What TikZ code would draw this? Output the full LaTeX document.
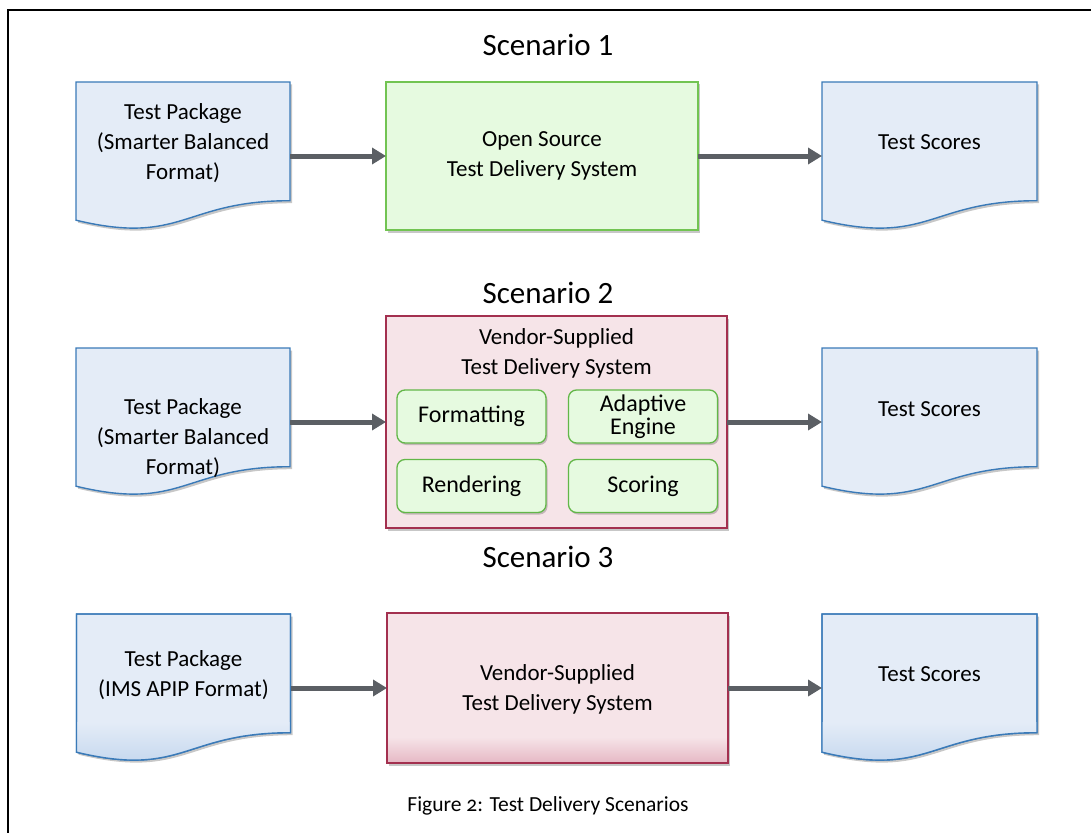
\documentclass[tikz,border=0pt]{standalone}
\usepackage{fontspec}
\setmainfont{Carlito}
\newfontfamily\capfont[Numbers=OldStyle]{Carlito}
\usetikzlibrary{arrows.meta,shadows,calc}
\definecolor{docfill}{HTML}{E4ECF7}
\definecolor{docline}{HTML}{3A7AB8}
\definecolor{docgrad}{HTML}{C3D6EE}
\definecolor{greenfill}{HTML}{E6FAE0}
\definecolor{greenline}{HTML}{72C452}
\definecolor{innerline}{HTML}{62B748}
\definecolor{pinkfill}{HTML}{F6E4E8}
\definecolor{pinkline}{HTML}{A3304F}
\definecolor{pinkdark}{HTML}{E6B8C4}
\definecolor{arrowgray}{HTML}{5B5F64}
\newcommand\drawdoc[2][docpath]{%
  \path[#1] (#2.north west) -- (#2.north east) -- ([yshift=29.3pt]#2.south east)
    .. controls ([yshift=29.3pt]#2.south) and ([yshift=-15.9pt]#2.south) .. ([yshift=9.8pt]#2.south west) -- cycle;}
\newcommand\docclip[1]{%
  \clip (#1.north west) -- (#1.north east) -- ([yshift=29.3pt]#1.south east)
    .. controls ([yshift=29.3pt]#1.south) and ([yshift=-15.9pt]#1.south) .. ([yshift=9.8pt]#1.south west) -- cycle;}
\begin{document}
\begin{tikzpicture}[x=1pt,y=-1pt,
  every node/.style={inner sep=0pt, outer sep=0pt},
  mainfont/.style={font=\fontsize{23}{30}\selectfont},
  holder/.style={rectangle, minimum width=214pt, minimum height=148pt},
  docpath/.style={fill=docfill, draw=docline, line width=1.4pt,
    drop shadow={shadow xshift=2pt, shadow yshift=-2.5pt, opacity=0.22, fill=black}},
  docborder/.style={draw=docline, line width=1.4pt},
  doctext/.style={mainfont, align=center},
  sysgreen/.style={rectangle, fill=greenfill, draw=greenline, line width=1.4pt,
    minimum width=312pt, minimum height=148pt, mainfont, align=center,
    drop shadow={shadow xshift=2pt, shadow yshift=-2.5pt, opacity=0.22, fill=black}},
  syspink/.style={rectangle, fill=pinkfill, draw=pinkline, line width=1.4pt,
    minimum width=341pt, mainfont, align=center,
    drop shadow={shadow xshift=2pt, shadow yshift=-2.5pt, opacity=0.22, fill=black}},
  innerbox/.style={rectangle, rounded corners=8pt, fill=greenfill, draw=innerline, line width=1.3pt,
    minimum width=149pt, minimum height=53pt, align=center,
    font=\fontsize{24}{23.5}\selectfont,
    drop shadow={shadow xshift=1.5pt, shadow yshift=-2pt, opacity=0.2, fill=black}},
  scen/.style={font=\fontsize{31}{36}\selectfont},
  flow/.style={draw=arrowgray, line width=5pt, -{Triangle[length=14pt,width=16pt]}, arrowgray}
]
\useasboundingbox (0,0) rectangle (1091,832);
% frame
\draw[line width=2.6pt, black] (8,840) -- (8,10) -- (1100,10);

% ---------- Scenario 1 ----------
\node[scen] (t1) at (548,45) {Scenario 1};
\node[holder] (p1) at (183,156) {};
\drawdoc{p1}
\node[doctext] (p1t) at ([yshift=-61pt]p1.north) {Test Package\\(Smarter Balanced\\Format)};
\node[sysgreen] (s1) at (542,156) {Open Source\\Test Delivery System};
\node[holder, minimum width=215pt] (r1) at (929.5,156) {};
\drawdoc{r1}
\node[doctext] (r1t) at ([yshift=-60pt]r1.north) {Test Scores};
\draw[flow] (p1.east) -- (s1.west);
\draw[flow] (s1.east) -- (r1.west);

% ---------- Scenario 2 ----------
\node[scen] (t2) at (548,293) {Scenario 2};
\node[holder] (p2) at (183,422) {};
\drawdoc{p2}
\node[doctext] (p2t) at ([yshift=-90pt]p2.north) {Test Package\\(Smarter Balanced\\Format)};
\node[syspink, minimum height=212pt] (s2) at (556.5,422) {};
\node[doctext] (s2t) at (556.5,353) {Vendor-Supplied\\Test Delivery System};
\node[innerbox] (fmt) at (471.5,416.5) {Formatting};
\node[innerbox] (ada) at (643,416.5) {Adaptive\\Engine};
\node[innerbox] (ren) at (471.5,486) {Rendering};
\node[innerbox] (sco) at (643,486) {Scoring};
\node[holder, minimum width=215pt] (r2) at (929.5,422) {};
\drawdoc{r2}
\node[doctext] (r2t) at ([yshift=-61pt]r2.north) {Test Scores};
\draw[flow] (p2.east) -- (s2.west);
\draw[flow] (s2.east) -- (r2.west);

% ---------- Scenario 3 ----------
\node[scen] (t3) at (548,557) {Scenario 3};
\node[holder] (p3) at (183.5,688) {};
\drawdoc{p3}
\begin{scope}
  \docclip{p3}
  \shade[top color=docfill, bottom color=docgrad] ([yshift=40pt]p3.south west) rectangle ([yshift=-4pt]p3.south east);
\end{scope}
\drawdoc[docborder]{p3}
\node[doctext] (p3t) at ([yshift=-61pt]p3.north) {Test Package\\(IMS APIP Format)};
\node[syspink, minimum height=150pt] (s3) at (557.5,688) {};
\shade[top color=pinkfill, bottom color=pinkdark] ([yshift=26pt]s3.south west) rectangle (s3.south east);
\draw[draw=pinkline, line width=1.4pt] (s3.north west) rectangle (s3.south east);
\node[doctext] (s3t) at (557.5,689) {Vendor-Supplied\\Test Delivery System};
\node[holder, minimum width=215pt] (r3) at (929.5,688) {};
\drawdoc{r3}
\begin{scope}
  \docclip{r3}
  \shade[top color=docfill, bottom color=docgrad] ([yshift=40pt]r3.south west) rectangle ([yshift=-4pt]r3.south east);
\end{scope}
\drawdoc[docborder]{r3}
\node[doctext] (r3t) at ([yshift=-60pt]r3.north) {Test Scores};
\draw[flow] (p3.east) -- (s3.west);
\draw[flow] (s3.east) -- (r3.west);

% caption
\node[font=\fontsize{21.5}{25}\selectfont] (cap) at (548,806) {\capfont Figure 2: Test Delivery Scenarios};
\end{tikzpicture}
\end{document}
